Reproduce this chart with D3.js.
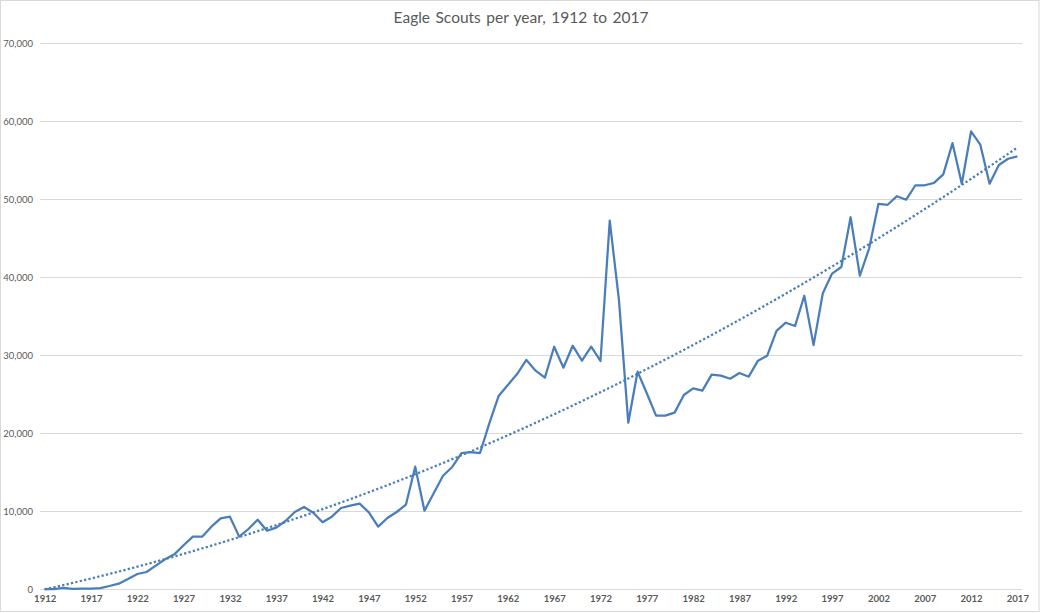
<!DOCTYPE html>
<html>
<head>
<meta charset="utf-8">
<script src="https://cdn.jsdelivr.net/npm/d3@7"></script>
<style>
  html, body { margin: 0; padding: 0; background: #fff; }
  svg { display: block; }
</style>
</head>
<body>
<svg id="chart" width="1040" height="613"></svg>
<script>
const title = "Eagle Scouts per year, 1912 to 2017";
const years = d3.range(1912, 2018);
const eagles = [
  23, 30, 170, 50, 100, 100, 150, 420, 720, 1320,
  1960, 2220, 3030, 3850, 4480, 5640, 6750, 6750, 8030, 9100,
  9310, 6750, 7730, 8920, 7510, 7900, 8760, 9910, 10550, 9820,
  8590, 9310, 10420, 10720, 10980, 9870, 8030, 9140, 9910, 10850,
  15720, 10080, 12310, 14560, 15680, 17470, 17600, 17470, 21280, 24780,
  26190, 27600, 29400, 28030, 27130, 31100, 28410, 31230, 29310, 31100,
  29270, 47260, 37000, 21360, 27900, 25130, 22260, 22260, 22650, 24910,
  25770, 25470, 27520, 27390, 27000, 27730, 27260, 29310, 29950, 33120,
  34180, 33750, 37640, 31300, 37950, 40480, 41320, 47700, 40200, 43720,
  49400, 49300, 50400, 49950, 51800, 51800, 52100, 53200, 57200, 52000,
  58700, 57000, 52000, 54400, 55200, 55500
];
const yTicks = [0, 10000, 20000, 30000, 40000, 50000, 60000, 70000];
const xTickYears = years.filter(y => (y - 1912) % 5 === 0);

const svg = d3.select("#chart");
const W = 1040, H = 613;
const plot = { left: 40, right: 1022, top: 43.3, bottom: 589.3 };
const font = "Lato, 'Open Sans', sans-serif";

// outer frame
svg.append("rect").attr("x", 0.5).attr("y", 0.5).attr("width", W - 1.5).attr("height", H - 2)
  .attr("fill", "#fff").attr("stroke", "#d9d9d9").attr("stroke-width", 1);

const x = d3.scalePoint().domain(years).range([plot.left, plot.right]).padding(0.5);
const y = d3.scaleLinear().domain([0, 70000]).range([plot.bottom, plot.top]);

// gridlines
svg.append("g").selectAll("line").data(yTicks).join("line")
  .attr("x1", plot.left).attr("x2", plot.right)
  .attr("y1", d => Math.round(y(d)) + 0.5).attr("y2", d => Math.round(y(d)) + 0.5)
  .attr("stroke", "#d9d9d9").attr("stroke-width", 1);

// y axis labels
const yAxis = d3.axisLeft(y).tickValues(yTicks).tickSize(0).tickPadding(0)
  .tickFormat(d3.format(","));
const gy = svg.append("g").attr("transform", `translate(${plot.left - 7},0)`).call(yAxis);
gy.select(".domain").remove();
gy.selectAll("text").attr("fill", "#595959").style("font-family", font)
  .style("font-size", "9.5px");

// x axis labels
const xAxis = d3.axisBottom(x).tickValues(xTickYears).tickSize(0).tickPadding(0);
const gx = svg.append("g").attr("transform", `translate(0,${plot.bottom + 6})`).call(xAxis);
gx.select(".domain").remove();
gx.selectAll("text").attr("fill", "#595959").style("font-family", font)
  .style("font-size", "9.5px").style("font-weight", "bold");

// data line
const line = d3.line().x((d, i) => x(years[i])).y(d => y(d));
svg.append("path").datum(eagles).attr("d", line)
  .attr("fill", "none").attr("stroke", "#4a7ebb").attr("stroke-width", 2.25)
  .attr("stroke-linejoin", "round");

// polynomial (order 2) trendline fitted to the data, like Excel's trendline
function quadFit(xs, ys) {
  const n = xs.length;
  let s = [0, 0, 0, 0, 0], t = [0, 0, 0];
  for (let i = 0; i < n; i++) {
    const xv = xs[i], yv = ys[i];
    let p = 1;
    for (let k = 0; k < 5; k++) { s[k] += p; if (k < 3) t[k] += p * yv; p *= xv; }
  }
  const A = [[s[0], s[1], s[2], t[0]], [s[1], s[2], s[3], t[1]], [s[2], s[3], s[4], t[2]]];
  for (let c = 0; c < 3; c++) {
    for (let r = c + 1; r < 3; r++) {
      const f = A[r][c] / A[c][c];
      for (let k = c; k < 4; k++) A[r][k] -= f * A[c][k];
    }
  }
  const b = [0, 0, 0];
  for (let r = 2; r >= 0; r--) {
    let v = A[r][3];
    for (let k = r + 1; k < 3; k++) v -= A[r][k] * b[k];
    b[r] = v / A[r][r];
  }
  return b;
}
const idx = years.map((d, i) => i + 1);
const coef = quadFit(idx, eagles);
const trend = idx.map(t => coef[0] + coef[1] * t + coef[2] * t * t);
svg.append("path").datum(trend).attr("d", line)
  .attr("fill", "none").attr("stroke", "#4a7ebb").attr("stroke-width", 2.25)
  .attr("stroke-dasharray", "2.25 2.25");

// title
svg.append("text").attr("x", 521).attr("y", 23).attr("text-anchor", "middle")
  .attr("fill", "#595959").style("font-family", font)
  .style("font-size", "15.5px").style("word-spacing", "1.5px").text(title);
</script>
</body>
</html>
